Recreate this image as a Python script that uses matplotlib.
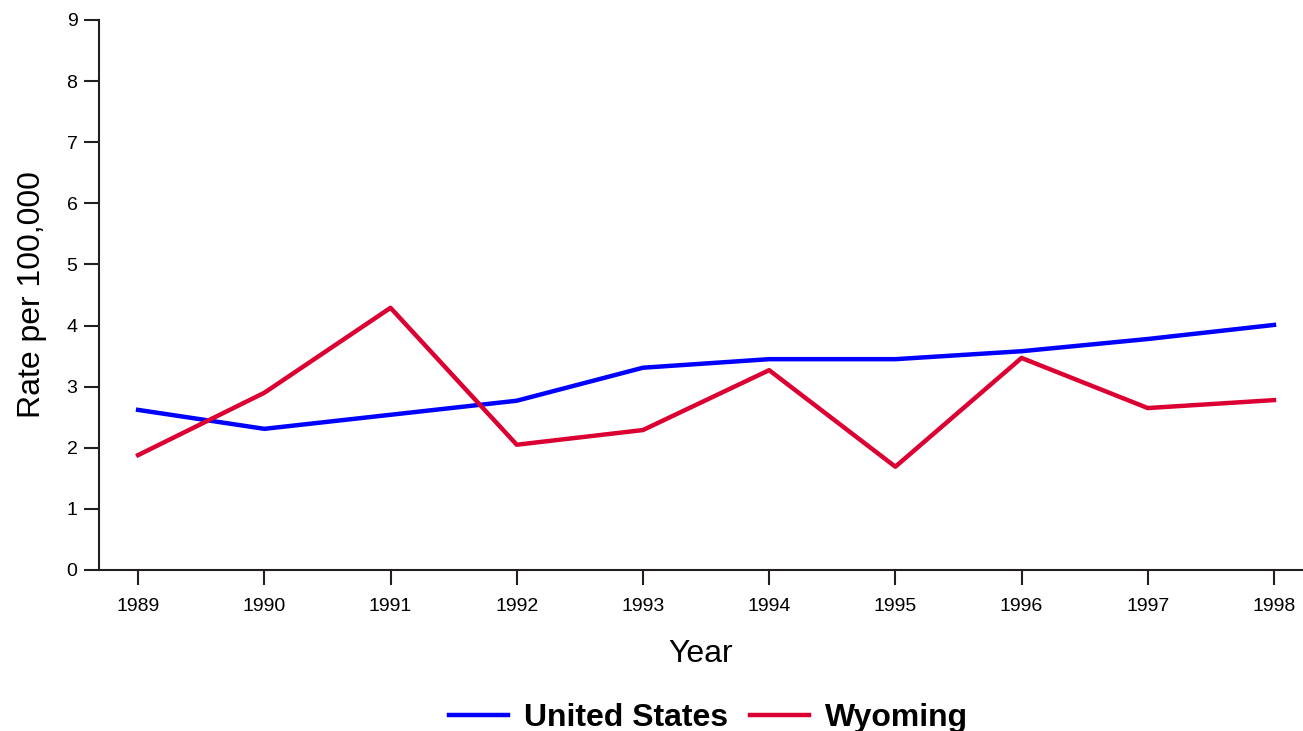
import matplotlib
matplotlib.use("Agg")
from matplotlib import pyplot as plt

# значення
years = [1989, 1990, 1991, 1992, 1993, 1994, 1995, 1996, 1997, 1998]
us_rate = [2.62, 2.31, 2.54, 2.77, 3.31, 3.45, 3.45, 3.58, 3.78, 4.01]
wy_rate = [1.88, 2.90, 4.29, 2.05, 2.29, 3.27, 1.69, 3.47, 2.65, 2.78]
y_ticks = list(range(0, 10))

plt.rcParams['font.family'] = ['Liberation Sans', 'DejaVu Sans']
spine_color = '#231F20'

fig = plt.figure(figsize=(13.03, 7.31), dpi=100)
ax = fig.add_axes([99 / 1303, 1 - 570 / 731, 1 - 99 / 1303, (570 - 20) / 731])

ax.plot(years, us_rate, color='#0000FF', lw=3.2, label='United States')
ax.plot(years, wy_rate, color='#DC0032', lw=3.2, label='Wyoming')

ax.set_xlim(1988.69, 1998.23)
ax.set_ylim(0, 9)
ax.set_xticks(years)
ax.set_yticks(y_ticks)

for side in ['top', 'right']:
    ax.spines[side].set_visible(False)
for side in ['left', 'bottom']:
    ax.spines[side].set_color(spine_color)
    ax.spines[side].set_linewidth(1.5)

ax.tick_params(axis='both', direction='out', length=10.5, width=1.5,
               color=spine_color, labelsize=14)
ax.tick_params(axis='x', pad=10)
ax.tick_params(axis='y', pad=5)

ax.set_xlabel('Year', fontsize=23, labelpad=17)
ax.set_ylabel('Rate per 100,000', fontsize=23, labelpad=14)

fig.legend(loc='center', bbox_to_anchor=(0.5438, 0.018), ncol=2,
           frameon=False, handlelength=1.85, handletextpad=0.5,
           columnspacing=0.7, borderpad=0,
           prop={'size': 23, 'weight': 'bold'})

fig.savefig('out.png', dpi=100)
